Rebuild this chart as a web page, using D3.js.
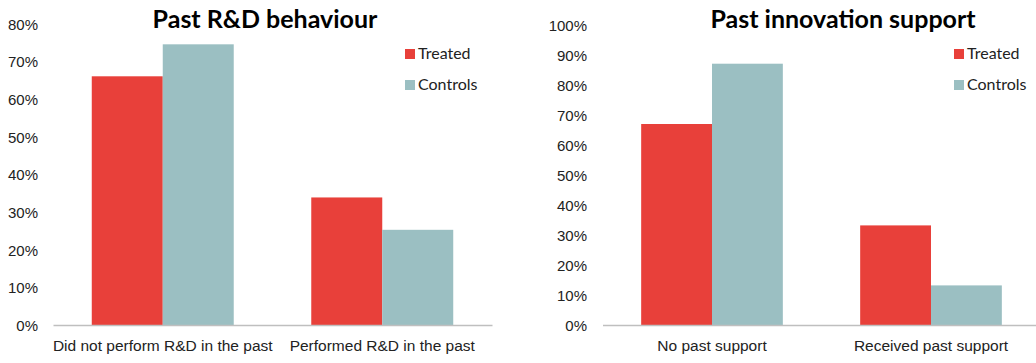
<!DOCTYPE html>
<html>
<head>
<meta charset="utf-8">
<script src="https://cdn.jsdelivr.net/npm/d3@7"></script>
<style>
	body { margin: 0; background: #fff; }
	svg { display: block; font-family: Lato, "Open Sans", sans-serif; }
	.yaxis text { fill: #222; font-size: 15px; }
	.xaxis text { fill: #222; font-size: 15.5px; }
	.title { font-weight: bold; font-size: 25px; fill: #000; }
	.legend text { font-size: 16px; fill: #222; }
</style>
</head>
<body>
<div id="chart"></div>
<script>
var series = ["Treated", "Controls"],
	colors = ["#e8403a", "#9bbfc2"];

/* left panel */
var rdCategories = ["Did not perform R&D in the past", "Performed R&D in the past"],
	rdTreated = [0.661, 0.339],
	rdControls = [0.746, 0.253],
	rdTicks = [0, 0.1, 0.2, 0.3, 0.4, 0.5, 0.6, 0.7, 0.8];

/* right panel */
var supCategories = ["No past support", "Received past support"],
	supTreated = [0.670, 0.332],
	supControls = [0.871, 0.132],
	supTicks = [0, 0.1, 0.2, 0.3, 0.4, 0.5, 0.6, 0.7, 0.8, 0.9, 1.0];

var svg = d3.select("#chart").append("svg")
	.attr("width", 1036)
	.attr("height", 363);

function drawPanel(cfg) {
	var g = svg.append("g");

	var x = d3.scaleBand()
		.domain(cfg.categories)
		.range([cfg.left, cfg.right]);

	var x1 = d3.scaleBand()
		.domain(series)
		.range([0, x.bandwidth()])
		.paddingOuter(0.546);

	var y = d3.scaleLinear()
		.domain([0, cfg.max])
		.range([325, cfg.top]);

	// y axis labels, no line
	var yAxis = g.append("g")
		.attr("class", "yaxis")
		.attr("transform", "translate(" + cfg.labelX + ",0)")
		.call(d3.axisLeft(y).tickValues(cfg.ticks).tickFormat(d3.format(".0%")).tickSize(0).tickPadding(0));
	yAxis.select(".domain").remove();
	yAxis.selectAll("text").attr("dy", "0.35em");

	var rows = cfg.categories.map(function(c, i) {
		return {cat: c, values: [cfg.treated[i], cfg.controls[i]]};
	});

	g.selectAll(".grp")
		.data(rows)
		.enter().append("g")
		.attr("class", "grp")
		.attr("transform", function(d) { return "translate(" + x(d.cat) + ",0)"; })
		.selectAll("rect")
		.data(function(d) { return d.values.map(function(v, i) { return {s: series[i], v: v, i: i}; }); })
		.enter().append("rect")
		.attr("x", function(d) { return x1(d.s); })
		.attr("width", x1.bandwidth())
		.attr("y", function(d) { return y(d.v); })
		.attr("height", function(d) { return y(0) - y(d.v); })
		.attr("fill", function(d) { return colors[d.i]; });

	// x axis
	var xAxis = g.append("g")
		.attr("class", "xaxis")
		.attr("transform", "translate(0," + y(0) + ")")
		.call(d3.axisBottom(x).tickSize(0).tickPadding(15));
	xAxis.select(".domain").attr("stroke", "#bfbfbf").attr("stroke-width", 1.5);

	g.append("text")
		.attr("class", "title")
		.attr("x", cfg.titleX)
		.attr("y", 28)
		.attr("text-anchor", "middle")
		.text(cfg.title);

	var legend = g.append("g").attr("class", "legend")
		.selectAll("g")
		.data(series)
		.enter().append("g")
		.attr("transform", function(d, i) { return "translate(" + cfg.legendX + "," + (49 + i * 31) + ")"; });
	legend.append("rect")
		.attr("width", 10)
		.attr("height", 10)
		.attr("fill", function(d, i) { return colors[i]; });
	legend.append("text")
		.attr("x", 13)
		.attr("y", 9.5)
		.text(function(d) { return d; });
}

drawPanel({
	categories: rdCategories, treated: rdTreated, controls: rdControls, ticks: rdTicks,
	max: 0.8, top: 24, left: 53, right: 492, labelX: 38,
	title: "Past R&D behaviour", titleX: 265, legendX: 405
});

drawPanel({
	categories: supCategories, treated: supTreated, controls: supControls, ticks: supTicks,
	max: 1.0, top: 25, left: 602.5, right: 1040.5, labelX: 587,
	title: "Past innovation support", titleX: 843, legendX: 954
});
</script>
</body>
</html>
